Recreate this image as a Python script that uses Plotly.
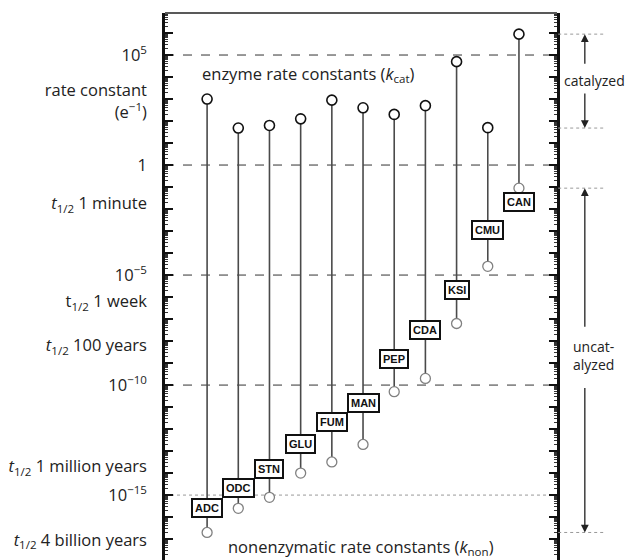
import numpy as np
import plotly.graph_objects as go

# ---------------- data ----------------
enzymes = ["ADC", "ODC", "STN", "GLU", "FUM", "MAN", "PEP", "CDA", "KSI", "CMU", "CAN"]
k_cat = [1.0e3, 48, 63, 126, 890, 400, 200, 500, 5.0e4, 50, 8.9e5]
k_non = [2.0e-17, 2.5e-16, 7.9e-16, 1.0e-14, 3.2e-14, 2.0e-13, 5.0e-11, 2.0e-10, 6.3e-8, 2.5e-5, 8.9e-2]

axis_label_vals = [1e5, 8e2, 1, 1.8e-2, 1e-5, 6.3e-7, 6.3e-9, 1e-10, 2e-14, 1e-15, 9e-18]
axis_label_text = [
    "10<sup>5</sup>",
    "rate constant<br>(e<sup>\u22121</sup>)",
    "1",
    "<i>t</i><sub>1/2</sub> 1 minute",
    "10<sup>\u22125</sup>",
    "t<sub>1/2</sub> 1 week",
    "<i>t</i><sub>1/2</sub> 100 years",
    "10<sup>\u221210</sup>",
    "<i>t</i><sub>1/2</sub> 1 million years",
    "10<sup>\u221215</sup>",
    "<i>t</i><sub>1/2</sub> 4 billion years",
]
grid_vals = [1e5, 1, 1e-5, 1e-10, 1e-15]

# ---------------- layout helpers (positions) ----------------
label_box_log = [-15.6, -14.7, -13.8, -12.7, -11.7, -10.8, -8.8, -7.5, -5.7, -2.95, -1.7]

FONT = "Open Sans"
FS = 16.5
YR = [-17.95, 6.91]
decades = [10.0 ** k for k in range(-18, 8)]
minor_vals = [m * 10.0 ** k for k in range(-18, 7) for m in range(2, 10)]

fig = go.Figure()

# vertical stems
xs, ys = [], []
for e, a, b in zip(enzymes, k_cat, k_non):
    xs += [e, e, None]
    ys += [a, b, None]
fig.add_trace(go.Scatter(x=xs, y=ys, mode="lines",
                         line=dict(color="#4a4a4a", width=1.6),
                         hoverinfo="skip", showlegend=False))

# k_non circles
fig.add_trace(go.Scatter(x=enzymes, y=k_non, mode="markers",
                         marker=dict(symbol="circle", size=10, color="white",
                                     line=dict(color="#808080", width=1.3)),
                         showlegend=False))
# k_cat circles
fig.add_trace(go.Scatter(x=enzymes, y=k_cat, mode="markers",
                         marker=dict(symbol="circle", size=10, color="white",
                                     line=dict(color="#111", width=1.6)),
                         showlegend=False))
# invisible trace so the tick-only axis is drawn
fig.add_trace(go.Scatter(x=[enzymes[0]], y=[1], yaxis="y2", mode="markers",
                         marker=dict(opacity=0), hoverinfo="skip", showlegend=False))

shapes = []
for g in grid_vals:
    last = g == grid_vals[-1]
    shapes.append(dict(type="line", xref="paper", x0=0, x1=1, yref="y",
                       y0=g, y1=g,
                       line=dict(color="#999" if last else "#333",
                                 width=1, dash="dot" if last else "dash"),
                       layer="below"))
# top border
shapes.append(dict(type="line", xref="paper", yref="paper", x0=0, x1=1, y0=1, y1=1,
                   line=dict(color="#222", width=1.5)))

# range markers on right
kc_max, kc_min = max(k_cat), min(k_cat)
kn_max, kn_min = max(k_non), min(k_non)
for v in [kc_max, kc_min, kn_max, kn_min]:
    shapes.append(dict(type="line", xref="paper", x0=1.003, x1=1.12, yref="y",
                       y0=v, y1=v, line=dict(color="#999", width=1, dash="dot")))

annotations = []
for e, ly in zip(enzymes, label_box_log):
    annotations.append(dict(x=e, y=ly, xref="x", yref="y", text="<b>%s</b>" % e,
                            showarrow=False, font=dict(family="Liberation Sans", size=11, color="#111"),
                            bgcolor="white", bordercolor="#111", borderwidth=2, borderpad=2))

annotations += [
    dict(xref="paper", yref="y", x=0.365, y=4.14, text="enzyme rate constants (<i>k</i><sub>cat</sub>)",
         showarrow=False, font=dict(family=FONT, size=FS, color="#222")),
    dict(xref="paper", yref="y", x=0.5, y=-17.36, text="nonenzymatic rate constants (<i>k</i><sub>non</sub>)",
         showarrow=False, font=dict(family=FONT, size=FS, color="#222")),
    dict(xref="paper", yref="y", x=1.012, y=3.86, xanchor="left", text="catalyzed",
         showarrow=False, font=dict(family=FONT, size=14, color="#222")),
    dict(xref="paper", yref="y", x=1.035, y=-8.64, xanchor="left", align="left", text="uncat-<br>alyzed",
         showarrow=False, font=dict(family=FONT, size=14, color="#222")),
]
arrow_x = 1.071
for head, off in [(kc_max, 31), (kc_min, -36), (kn_max, 140), (kn_min, -146)]:
    annotations.append(dict(xref="paper", yref="y", x=arrow_x, y=np.log10(head), ax=0, ay=off,
                            text="", showarrow=True, arrowhead=2, arrowsize=1.2,
                            arrowwidth=1.3, arrowcolor="#222"))

fig.update_layout(
    width=633, height=560,
    margin=dict(l=165, r=76, t=13, b=0),
    plot_bgcolor="white", paper_bgcolor="white",
    shapes=shapes, annotations=annotations,
    font=dict(family=FONT, size=FS, color="#222"),
    xaxis=dict(type="category", categoryorder="array", categoryarray=enzymes,
               range=[-1.35, 11.22], visible=False, showgrid=False, zeroline=False),
    yaxis=dict(type="log", range=YR, tickmode="array",
               tickvals=axis_label_vals, ticktext=axis_label_text, ticks="",
               ticklabelstandoff=12, showgrid=False, zeroline=False,
               showline=True, linecolor="#111", linewidth=2.5, mirror=True,
               tickfont=dict(family=FONT, size=FS, color="#222")),
    yaxis2=dict(type="log", range=YR, overlaying="y", side="left", tickmode="array",
                tickvals=decades, ticks="inside", ticklen=8, tickwidth=2, tickcolor="#111",
                showticklabels=False, showgrid=False, zeroline=False, showline=False,
                mirror="allticks",
                minor=dict(tickvals=minor_vals, ticks="inside", ticklen=3, tickwidth=1,
                           tickcolor="#333", showgrid=False)),
)

fig.write_html("out.html")
